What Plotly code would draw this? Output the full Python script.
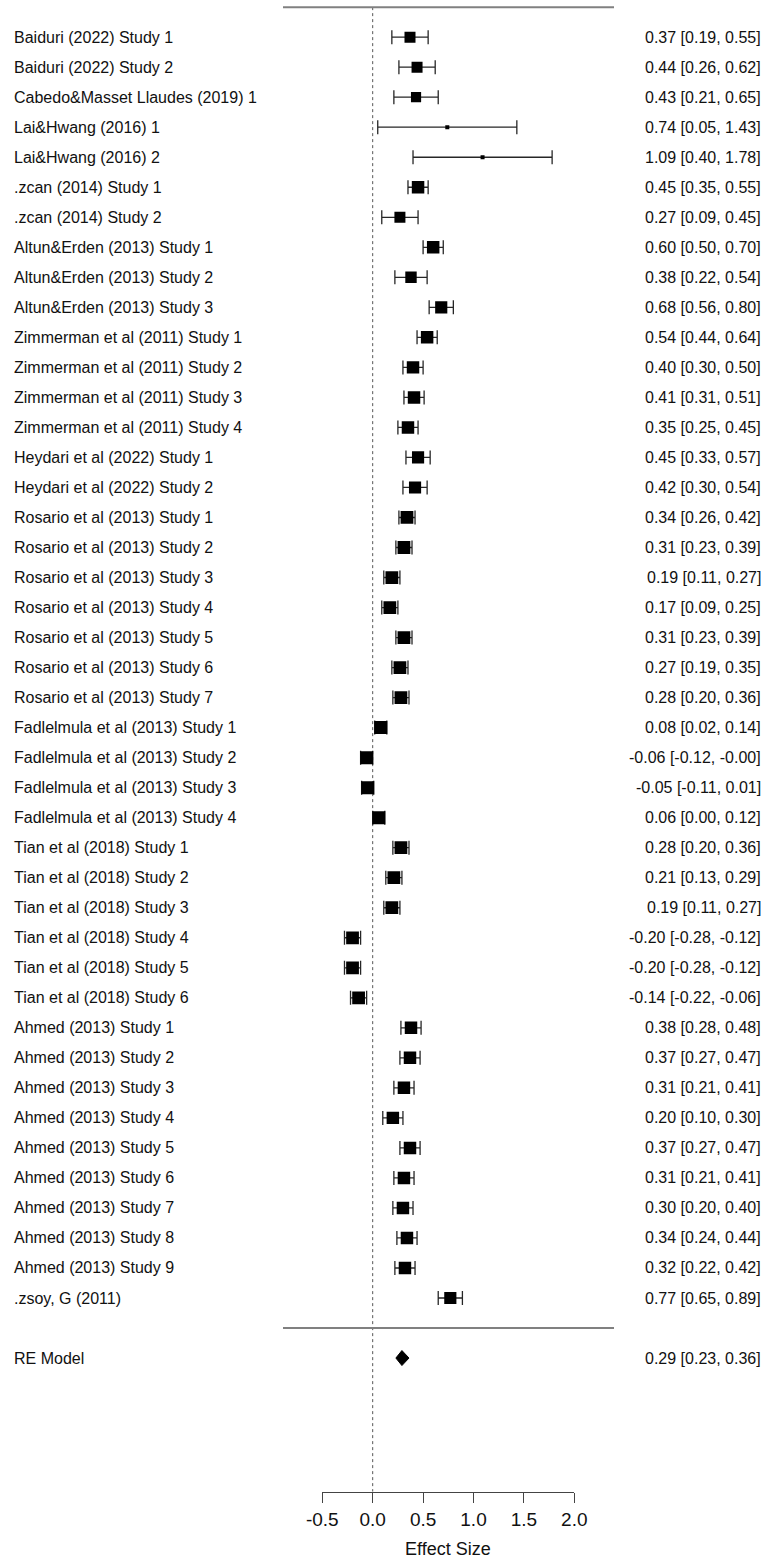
import plotly.graph_objects as go

# ---- data ----
studies = [
    "Baiduri (2022) Study 1", "Baiduri (2022) Study 2", "Cabedo&Masset Llaudes (2019) 1",
    "Lai&Hwang (2016) 1", "Lai&Hwang (2016) 2",
    ".zcan (2014) Study 1", ".zcan (2014) Study 2",
    "Altun&Erden (2013) Study 1", "Altun&Erden (2013) Study 2", "Altun&Erden (2013) Study 3",
    "Zimmerman et al (2011) Study 1", "Zimmerman et al (2011) Study 2",
    "Zimmerman et al (2011) Study 3", "Zimmerman et al (2011) Study 4",
    "Heydari et al (2022) Study 1", "Heydari et al (2022) Study 2",
    "Rosario et al (2013) Study 1", "Rosario et al (2013) Study 2", "Rosario et al (2013) Study 3",
    "Rosario et al (2013) Study 4", "Rosario et al (2013) Study 5", "Rosario et al (2013) Study 6",
    "Rosario et al (2013) Study 7",
    "Fadlelmula et al (2013) Study 1", "Fadlelmula et al (2013) Study 2",
    "Fadlelmula et al (2013) Study 3", "Fadlelmula et al (2013) Study 4",
    "Tian et al (2018) Study 1", "Tian et al (2018) Study 2", "Tian et al (2018) Study 3",
    "Tian et al (2018) Study 4", "Tian et al (2018) Study 5", "Tian et al (2018) Study 6",
    "Ahmed (2013) Study 1", "Ahmed (2013) Study 2", "Ahmed (2013) Study 3",
    "Ahmed (2013) Study 4", "Ahmed (2013) Study 5", "Ahmed (2013) Study 6",
    "Ahmed (2013) Study 7", "Ahmed (2013) Study 8", "Ahmed (2013) Study 9",
    ".zsoy, G (2011)",
]
estimates = [0.37, 0.44, 0.43, 0.74, 1.09, 0.45, 0.27, 0.60, 0.38, 0.68,
             0.54, 0.40, 0.41, 0.35, 0.45, 0.42,
             0.34, 0.31, 0.19, 0.17, 0.31, 0.27, 0.28,
             0.08, -0.06, -0.05, 0.06,
             0.28, 0.21, 0.19, -0.20, -0.20, -0.14,
             0.38, 0.37, 0.31, 0.20, 0.37, 0.31, 0.30, 0.34, 0.32,
             0.77]
ci_lower = [0.19, 0.26, 0.21, 0.05, 0.40, 0.35, 0.09, 0.50, 0.22, 0.56,
            0.44, 0.30, 0.31, 0.25, 0.33, 0.30,
            0.26, 0.23, 0.11, 0.09, 0.23, 0.19, 0.20,
            0.02, -0.12, -0.11, 0.00,
            0.20, 0.13, 0.11, -0.28, -0.28, -0.22,
            0.28, 0.27, 0.21, 0.10, 0.27, 0.21, 0.20, 0.24, 0.22,
            0.65]
ci_upper = [0.55, 0.62, 0.65, 1.43, 1.78, 0.55, 0.45, 0.70, 0.54, 0.80,
            0.64, 0.50, 0.51, 0.45, 0.57, 0.54,
            0.42, 0.39, 0.27, 0.25, 0.39, 0.35, 0.36,
            0.14, -0.00, 0.01, 0.12,
            0.36, 0.29, 0.27, -0.12, -0.12, -0.06,
            0.48, 0.47, 0.41, 0.30, 0.47, 0.41, 0.40, 0.44, 0.42,
            0.89]
re_label = "RE Model"
re_estimate = 0.29
re_lower = 0.23
re_upper = 0.36
x_ticks = [-0.5, 0.0, 0.5, 1.0, 1.5, 2.0]
x_title = "Effect Size"

# ---- layout helpers ----
W, H = 764, 1560
k = len(studies)
rows = [k - i for i in range(k)]            # k .. 1
row_px = 30.02
first_px = 1298.0                           # pixel of row 1
axis_px = 1491.7
y_top = 1 + first_px / row_px
y_bot = 1 - (axis_px - first_px) / row_px


def fmt(v):
    s = f"{v:.2f}"
    return s if not s.startswith("-0.00") else "-0.00"


def ci_text(e, lo, hi):
    return f"{fmt(e)} [{fmt(lo)}, {fmt(hi)}]"


# marker size from inverse-variance weights (style encoding)
tau2 = 0.035
se = [(h - l) / (2 * 1.96) for l, h in zip(ci_lower, ci_upper)]
w = [1 / (s * s + tau2) for s in se]
wmin, wmax = min(w), max(w)
sizes = [4 + 9 * (wi - wmin) / (wmax - wmin) for wi in w]

fig = go.Figure()

# confidence intervals (drawn first, beneath the squares)
fig.add_trace(go.Scatter(
    x=estimates, y=rows, mode="markers",
    marker=dict(size=1, color="rgba(0,0,0,0)"),
    error_x=dict(type="data", symmetric=False,
                 array=[h - e for e, h in zip(estimates, ci_upper)],
                 arrayminus=[e - l for e, l in zip(estimates, ci_lower)],
                 color="#262626", thickness=1.3, width=7),
    hoverinfo="skip", showlegend=False,
))
# point estimates
fig.add_trace(go.Scatter(
    x=estimates, y=rows, mode="markers",
    marker=dict(symbol="square", size=sizes, color="black", opacity=1, line=dict(width=0)),
    hoverinfo="skip", showlegend=False,
))

dh = 0.25
fig.add_trace(go.Scatter(
    x=[re_lower, re_estimate, re_upper, re_estimate, re_lower],
    y=[-1, -1 + dh, -1, -1 - dh, -1],
    mode="lines", fill="toself", fillcolor="black",
    line=dict(color="black", width=1), hoverinfo="skip", showlegend=False,
))

annotations = []
font = dict(family="Liberation Sans, Arial, sans-serif", size=16, color="#111")
for r, name, e, lo, hi in zip(rows, studies, estimates, ci_lower, ci_upper):
    annotations.append(dict(x=12 / W, xref="paper", y=r, yref="y", text=name,
                            xanchor="left", yanchor="middle", showarrow=False, font=font))
    annotations.append(dict(x=763 / W, xref="paper", y=r, yref="y", text=ci_text(e, lo, hi),
                            xanchor="right", yanchor="middle", showarrow=False, font=font))
annotations.append(dict(x=12 / W, xref="paper", y=-1, yref="y", text=re_label,
                        xanchor="left", yanchor="middle", showarrow=False, font=font))
annotations.append(dict(x=763 / W, xref="paper", y=-1, yref="y",
                        text=ci_text(re_estimate, re_lower, re_upper),
                        xanchor="right", yanchor="middle", showarrow=False, font=font))
annotations.append(dict(x=((322.3 + 574.3) / 2) / W, xref="paper", y=1 - 1549 / H, yref="paper",
                        text=x_title, xanchor="center", yanchor="middle", showarrow=False,
                        font=dict(family="Liberation Sans, Arial, sans-serif", size=18, color="#111")))

shapes = [
    dict(type="line", xref="x", yref="y", x0=0, x1=0, y0=k + 1, y1=y_bot,
         line=dict(color="#555", width=1, dash="dot"), layer="below"),
    dict(type="line", xref="paper", yref="y", x0=283 / W, x1=614 / W, y0=k + 1, y1=k + 1,
         line=dict(color="#808080", width=2)),
    dict(type="line", xref="paper", yref="y", x0=283 / W, x1=614 / W, y0=0, y1=0,
         line=dict(color="#808080", width=2)),
]

fig.update_layout(
    width=W, height=H, margin=dict(l=0, r=0, t=0, b=0, pad=0, autoexpand=False),
    autosize=False,
    paper_bgcolor="white", plot_bgcolor="white",
    showlegend=False,
    xaxis=dict(domain=[322.3 / W, 574.3 / W], range=[-0.5, 2.0],
               tickvals=x_ticks, ticktext=[f"{t:.1f}" for t in x_ticks],
               ticks="outside", ticklen=10, tickcolor="#444", tickwidth=1,
               showline=True, linecolor="#444", linewidth=1, automargin=False,
               showgrid=False, zeroline=False, ticklabelstandoff=0,
               tickfont=dict(family="Liberation Sans, Arial, sans-serif", size=19, color="#111")),
    yaxis=dict(domain=[1 - axis_px / H, 1], range=[y_bot, y_top], visible=False,
               showgrid=False, zeroline=False, automargin=False),
    annotations=annotations, shapes=shapes,
)

post = """
document.documentElement.style.margin='0';
document.documentElement.style.overflow='hidden';
document.body.style.margin='0';
document.body.style.padding='0';
document.body.style.overflow='hidden';
"""

fig.write_html("out.html", config={"responsive": False, "displayModeBar": False},
               post_script=post)
